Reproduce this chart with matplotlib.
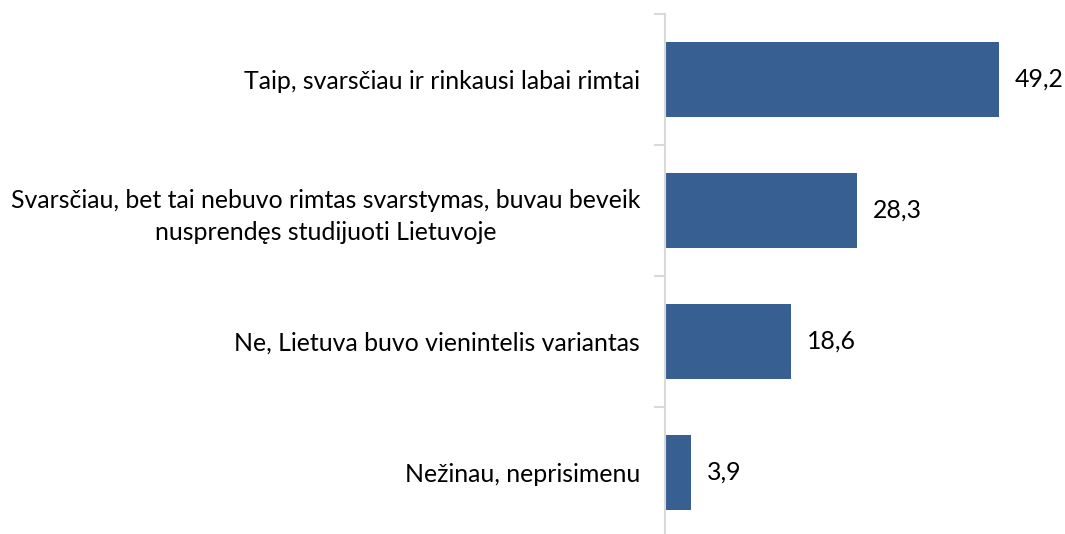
import matplotlib.pyplot as plt
import numpy as np

labels = ['Taip, svarsčiau ir rinkausi labai rimtai',
          'Svarsčiau, bet tai nebuvo rimtas svarstymas, buvau beveik\nnusprendęs studijuoti Lietuvoje',
          'Ne, Lietuva buvo vienintelis variantas',
          'Nežinau, neprisimenu']
values = [49.2, 28.3, 18.6, 3.9]

plt.rcParams['font.family'] = ['Lato', 'DejaVu Sans']

fig = plt.figure(figsize=(10.65, 5.34), dpi=100)
ax = fig.add_axes([665 / 1065, -4 / 534, 394 / 1065, 524 / 534])

y = np.arange(len(values))
ax.barh(y, values, height=0.58, color='#375F91')
ax.set_xlim(0, 58)
ax.set_ylim(len(values) - 0.5, -0.5)

for yi, v in zip(y, values):
    ax.text(v + 2.3, yi, f'{v:.1f}'.replace('.', ','), va='center', ha='left',
            fontsize=17.9, color='black')

ax.set_yticks(y)
ax.set_yticklabels(labels, fontsize=17.9, multialignment='center', linespacing=1.45)
ax.set_yticks(np.arange(-0.5, len(values)), minor=True)
ax.tick_params(axis='y', which='major', length=0, pad=18)
ax.tick_params(axis='y', which='minor', length=8, color='#D9D9D9', width=1.5)
ax.set_xticks([])

for s in ['top', 'right', 'bottom']:
    ax.spines[s].set_visible(False)
ax.spines['left'].set_color('#D9D9D9')
ax.spines['left'].set_linewidth(1.5)

fig.savefig('out.png', dpi=100)
